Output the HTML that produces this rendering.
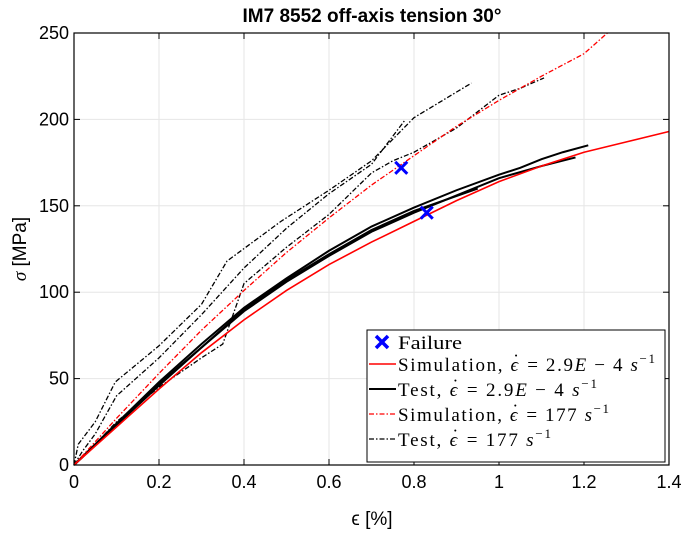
<!DOCTYPE html>
<html><head><meta charset="utf-8"><style>
body{margin:0;background:#fff;}
svg text{font-family:"Liberation Sans",sans-serif;}
.leg{font-family:"Liberation Serif",serif;font-size:19px;}
</style></head><body>
<svg id="c" width="685" height="535" xmlns="http://www.w3.org/2000/svg"></svg>
<script>
const xTicks=[0,0.2,0.4,0.6,0.8,1,1.2,1.4];
const xTickLabels=["0","0.2","0.4","0.6","0.8","1","1.2","1.4"];
const yTicks=[0,50,100,150,200,250];
const yTickLabels=["0","50","100","150","200","250"];
const simSlowX=[0,0.1,0.2,0.3,0.4,0.5,0.6,0.7,0.8,0.9,1.0,1.1,1.2,1.3,1.4];
const simSlowY=[0,22,44,65,84,101,116,129,141,153,164,173,181,187,193];
const testSlow1X=[0,0.1,0.2,0.3,0.4,0.5,0.6,0.7,0.8,0.9,1.0,1.05,1.1,1.15,1.21];
const testSlow1Y=[0,24,48,70,91,108,124,138,149,159,168,172,177,181,185];
const testSlow2X=[0,0.1,0.2,0.3,0.4,0.5,0.6,0.7,0.8,0.9,1.0,1.1,1.18];
const testSlow2Y=[0,23,47,68,89,106,121,135,146,156,166,173,178];
const testSlow3X=[0,0.1,0.2,0.3,0.4,0.5,0.6,0.7,0.8,0.95];
const testSlow3Y=[0,23,46,68,90,107,122,136,147,160];
const simFastX=[0,0.1,0.2,0.3,0.4,0.5,0.6,0.7,0.8,0.9,1.0,1.1,1.2,1.255];
const simFastY=[0,27,53,78,101,123,143,162,179,196,211,225,238,250];
const testFast1X=[0,0.01,0.05,0.097,0.2,0.3,0.36,0.487,0.6,0.7,0.8,0.935];
const testFast1Y=[0,12,25,48,69,93,118,141,159,176,201,221];
const testFast2X=[0,0.02,0.05,0.1,0.2,0.3,0.4,0.5,0.6,0.7,0.78];
const testFast2Y=[0,8,18,40,62,87,114,137,157,174,200];
const testFast3X=[0,0.05,0.1,0.2,0.3,0.35,0.4,0.5,0.6,0.7,0.75,0.8,0.9,1.0,1.05,1.106];
const testFast3Y=[0,12,25,45,62,70,105,126,145,169,176,181,195,214,218,224];
const failX=[0.77,0.83];
const failY=[172,146];

const L=74,R=669,T=33,B=465;
const sx=v=>L+(v/1.4)*(R-L);
const sy=v=>B-(v/250)*(B-T);
const svg=document.getElementById('c');
const NS="http://www.w3.org/2000/svg";
function mk(tag,attrs,parent){const e=document.createElementNS(NS,tag);for(const k in attrs)e.setAttribute(k,attrs[k]);(parent||svg).appendChild(e);return e;}
mk('rect',{x:L,y:T,width:R-L,height:B-T,fill:'#fff'});
xTicks.forEach((t,i)=>{
 const g=mk('line',{x1:sx(t),x2:sx(t),y1:T,y2:B,stroke:'#e6e6e6','stroke-width':1});
 
 mk('line',{x1:sx(t),x2:sx(t),y1:B,y2:B-6,stroke:'#000'});
 mk('line',{x1:sx(t),x2:sx(t),y1:T,y2:T+6,stroke:'#000'});
 const tx=mk('text',{x:sx(t),y:B+23,'text-anchor':'middle','font-size':18});
 tx.textContent=xTickLabels[i];
 
});
yTicks.forEach((t,i)=>{
 const g=mk('line',{x1:L,x2:R,y1:sy(t),y2:sy(t),stroke:'#e6e6e6','stroke-width':1});
 
 mk('line',{x1:L,x2:L+6,y1:sy(t),y2:sy(t),stroke:'#000'});
 mk('line',{x1:R,x2:R-6,y1:sy(t),y2:sy(t),stroke:'#000'});
 const tx=mk('text',{x:L-5,y:sy(t)+6,'text-anchor':'end','font-size':18});
 tx.textContent=yTickLabels[i];
 
});
function line(xs,ys,color,w,dash,name){
 const p=mk('polyline',{points:xs.map((x,i)=>sx(x)+','+sy(ys[i])).join(' '),fill:'none',stroke:color,'stroke-width':w});
 if(dash)p.setAttribute('stroke-dasharray',dash);
 
}
line(testFast1X,testFast1Y,'#000',1.3,'5,2,1.5,2','test-fast-1');
line(testFast2X,testFast2Y,'#000',1.3,'5,2,1.5,2','test-fast-2');
line(testFast3X,testFast3Y,'#000',1.3,'5,2,1.5,2','test-fast-3');
line(testSlow1X,testSlow1Y,'#000',2,null,'test-slow-1');
line(testSlow2X,testSlow2Y,'#000',2,null,'test-slow-2');
line(testSlow3X,testSlow3Y,'#000',2,null,'test-slow-3');
line(simSlowX,simSlowY,'#ff0000',1.6,null,'simulation-slow');
line(simFastX,simFastY,'#ff0000',1.3,'5,2,1.5,2','simulation-fast');
failX.forEach((x,i)=>{
 const g=mk('g',{stroke:'#0000ff','stroke-width':3});
 
 const cx=sx(x),cy=sy(failY[i]);
 mk('line',{x1:cx-6,y1:cy-6,x2:cx+6,y2:cy+6},g);mk('line',{x1:cx-6,y1:cy+6,x2:cx+6,y2:cy-6},g);
});
mk('rect',{x:L,y:T,width:R-L,height:B-T,fill:'none',stroke:'#000','stroke-width':1.2});
</script>
<svg style="position:absolute;left:0;top:0" width="685" height="535" xmlns="http://www.w3.org/2000/svg">
<text x="372" y="22" text-anchor="middle" font-size="19" font-weight="bold">IM7 8552 off-axis tension 30°</text>
<text x="372" y="525" text-anchor="middle" font-size="19">ϵ [%]</text>
<text transform="translate(26,249) rotate(-90)" text-anchor="middle" font-size="19"><tspan font-style="italic" font-family="Liberation Serif">σ</tspan> [MPa]</text>
<g>
<rect x="367" y="330" width="298" height="132" fill="#fff" stroke="#000" stroke-width="1"/>
<g stroke="#0000ff" stroke-width="3.5"><line x1="376" y1="336" x2="388" y2="348"/><line x1="376" y1="348" x2="388" y2="336"/></g>
<text class="leg" x="398" y="349" textLength="64" lengthAdjust="spacingAndGlyphs">Failure</text>
<line x1="369" y1="364" x2="396" y2="364" stroke="#f00" stroke-width="1.6"/>
<text class="leg" x="398" y="371" textLength="257">Simulation, <tspan font-style="italic">ϵ</tspan><tspan dx="-7" dy="-4">˙</tspan><tspan dy="4"> = 2.9</tspan><tspan font-style="italic">E</tspan> − 4 <tspan font-style="italic">s</tspan><tspan font-size="13" dy="-8">−1</tspan></text>
<line x1="369" y1="389" x2="396" y2="389" stroke="#000" stroke-width="2"/>
<text class="leg" x="398" y="396" textLength="199">Test, <tspan font-style="italic">ϵ</tspan><tspan dx="-7" dy="-4">˙</tspan><tspan dy="4"> = 2.9</tspan><tspan font-style="italic">E</tspan> − 4 <tspan font-style="italic">s</tspan><tspan font-size="13" dy="-8">−1</tspan></text>
<line x1="369" y1="414" x2="396" y2="414" stroke="#f00" stroke-width="1.3" stroke-dasharray="5,2,1.5,2"/>
<text class="leg" x="398" y="421" textLength="211">Simulation, <tspan font-style="italic">ϵ</tspan><tspan dx="-7" dy="-4">˙</tspan><tspan dy="4"> = 177 </tspan><tspan font-style="italic">s</tspan><tspan font-size="13" dy="-8">−1</tspan></text>
<line x1="369" y1="439" x2="396" y2="439" stroke="#000" stroke-width="1.3" stroke-dasharray="5,2,1.5,2"/>
<text class="leg" x="398" y="446" textLength="153">Test, <tspan font-style="italic">ϵ</tspan><tspan dx="-7" dy="-4">˙</tspan><tspan dy="4"> = 177 </tspan><tspan font-style="italic">s</tspan><tspan font-size="13" dy="-8">−1</tspan></text>
</g>
</svg>
</body></html>
